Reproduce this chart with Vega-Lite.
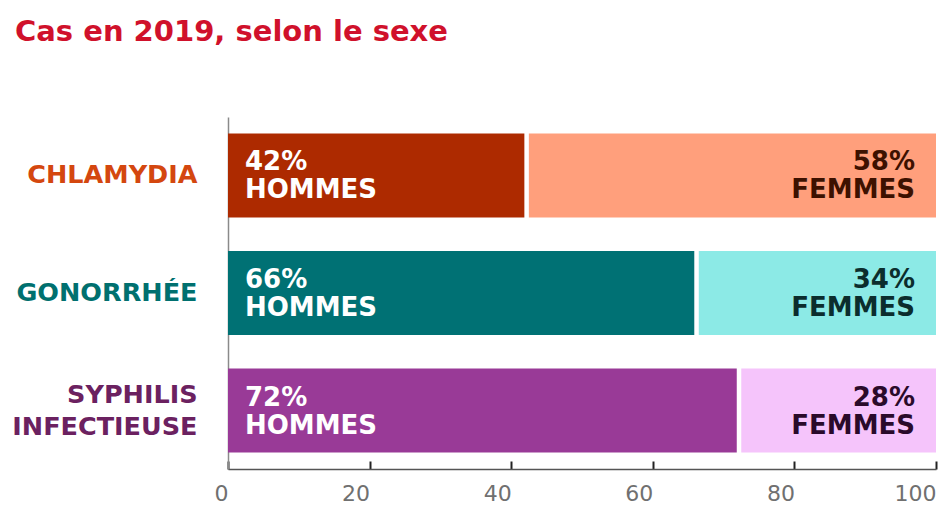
{
  "$schema": "https://vega.github.io/schema/vega-lite/v6.json",
  "width": 708,
  "height": 352,
  "autosize": {"type": "none"},
  "padding": {"left": 228, "top": 117, "right": 13, "bottom": 38},
  "background": "white",
  "title": {
    "text": "Cas en 2019, selon le sexe",
    "anchor": "start",
    "frame": "group",
    "dx": -213,
    "offset": 47,
    "baseline": "alphabetic",
    "fontSize": 29,
    "font": "DejaVu Sans",
    "fontWeight": "bold",
    "color": "#d0112b"
  },
  "data": {
    "values": [
      {"maladie": "CHLAMYDIA", "sexe": "HOMMES", "pct": 42, "groupe": "CHLAMYDIA HOMMES", "etiquette": "42%\nHOMMES"},
      {"maladie": "CHLAMYDIA", "sexe": "FEMMES", "pct": 58, "groupe": "CHLAMYDIA FEMMES", "etiquette": "58%\nFEMMES"},
      {"maladie": "GONORRHÉE", "sexe": "HOMMES", "pct": 66, "groupe": "GONORRHÉE HOMMES", "etiquette": "66%\nHOMMES"},
      {"maladie": "GONORRHÉE", "sexe": "FEMMES", "pct": 34, "groupe": "GONORRHÉE FEMMES", "etiquette": "34%\nFEMMES"},
      {"maladie": "SYPHILIS INFECTIEUSE", "sexe": "HOMMES", "pct": 72, "groupe": "SYPHILIS INFECTIEUSE HOMMES", "etiquette": "72%\nHOMMES"},
      {"maladie": "SYPHILIS INFECTIEUSE", "sexe": "FEMMES", "pct": 28, "groupe": "SYPHILIS INFECTIEUSE FEMMES", "etiquette": "28%\nFEMMES"}
    ]
  },
  "transform": [
    {"stack": "pct", "groupby": ["maladie"], "sort": [{"field": "sexe", "order": "descending"}], "as": ["x0", "x1"]}
  ],
  "encoding": {
    "y": {
      "field": "maladie",
      "type": "nominal",
      "sort": ["CHLAMYDIA", "GONORRHÉE", "SYPHILIS INFECTIEUSE"],
      "scale": {"paddingInner": 0.285, "paddingOuter": 0.14},
      "axis": {
        "title": null,
        "ticks": false,
        "domainColor": "#8a8a8a",
        "domainWidth": 1.5,
        "labelPadding": 31,
        "labelLimit": 230,
        "labelFontSize": 25.5,
        "labelFont": "DejaVu Sans",
        "labelFontWeight": "bold",
        "labelLineHeight": 32,
        "labelOffset": {
          "condition": {"test": "datum.value == 'SYPHILIS INFECTIEUSE'", "value": -16},
          "value": 0
        },
        "labelExpr": "datum.value == 'SYPHILIS INFECTIEUSE' ? ['SYPHILIS', 'INFECTIEUSE'] : datum.value",
        "labelColor": {
          "condition": [
            {"test": "datum.value == 'CHLAMYDIA'", "value": "#d4470f"},
            {"test": "datum.value == 'GONORRHÉE'", "value": "#00706f"}
          ],
          "value": "#6b2160"
        }
      }
    },
    "x": {
      "field": "x0",
      "type": "quantitative",
      "scale": {"domain": [0, 100], "nice": false},
      "axis": {
        "title": null,
        "values": [0, 20, 40, 60, 80, 100],
        "grid": false,
        "domainColor": "#555555",
        "domainWidth": 1.5,
        "tickColor": "#222222",
        "tickWidth": 2,
        "tickSize": -8,
        "labelAlign": "right",
        "labelFontSize": 22,
        "labelFont": "DejaVu Sans",
        "labelColor": "#707070",
        "labelPadding": 22
      }
    },
    "x2": {"field": "x1"}
  },
  "layer": [
    {
      "transform": [{"filter": "datum.sexe == 'HOMMES'"}],
      "mark": {"type": "bar", "x2Offset": -1},
      "encoding": {
        "color": {
          "field": "groupe",
          "type": "nominal",
          "scale": {
            "domain": ["CHLAMYDIA HOMMES", "GONORRHÉE HOMMES", "SYPHILIS INFECTIEUSE HOMMES"],
            "range": ["#ad2a00", "#007174", "#993a97"]
          },
          "legend": null
        }
      }
    },
    {
      "transform": [{"filter": "datum.sexe == 'FEMMES'"}],
      "mark": {"type": "bar", "xOffset": 3.5},
      "encoding": {
        "color": {
          "field": "groupe",
          "type": "nominal",
          "scale": {
            "domain": ["CHLAMYDIA FEMMES", "GONORRHÉE FEMMES", "SYPHILIS INFECTIEUSE FEMMES"],
            "range": ["#ff9f7c", "#8ceae6", "#f5c4fb"]
          },
          "legend": null
        }
      }
    },
    {
      "transform": [{"filter": "datum.sexe == 'HOMMES'"}],
      "mark": {"type": "text", "align": "left", "dx": 17, "dy": -13, "baseline": "middle", "lineBreak": "\n", "lineHeight": 28, "fontSize": 26, "font": "DejaVu Sans", "fontWeight": "bold", "color": "white"},
      "encoding": {
        "text": {"field": "etiquette"},
        "x2": null
      }
    },
    {
      "transform": [{"filter": "datum.sexe == 'FEMMES'"}],
      "mark": {"type": "text", "align": "right", "dx": -21, "dy": -13, "baseline": "middle", "lineBreak": "\n", "lineHeight": 28, "fontSize": 26, "font": "DejaVu Sans", "fontWeight": "bold"},
      "encoding": {
        "x": {"field": "x1", "type": "quantitative"},
        "x2": null,
        "text": {"field": "etiquette"},
        "color": {
          "field": "groupe",
          "type": "nominal",
          "scale": {
            "domain": ["CHLAMYDIA FEMMES", "GONORRHÉE FEMMES", "SYPHILIS INFECTIEUSE FEMMES"],
            "range": ["#3d1100", "#0b2d2d", "#2a0a2a"]
          },
          "legend": null
        }
      }
    }
  ],
  "resolve": {"scale": {"color": "independent"}},
  "config": {"view": {"stroke": null}}
}
